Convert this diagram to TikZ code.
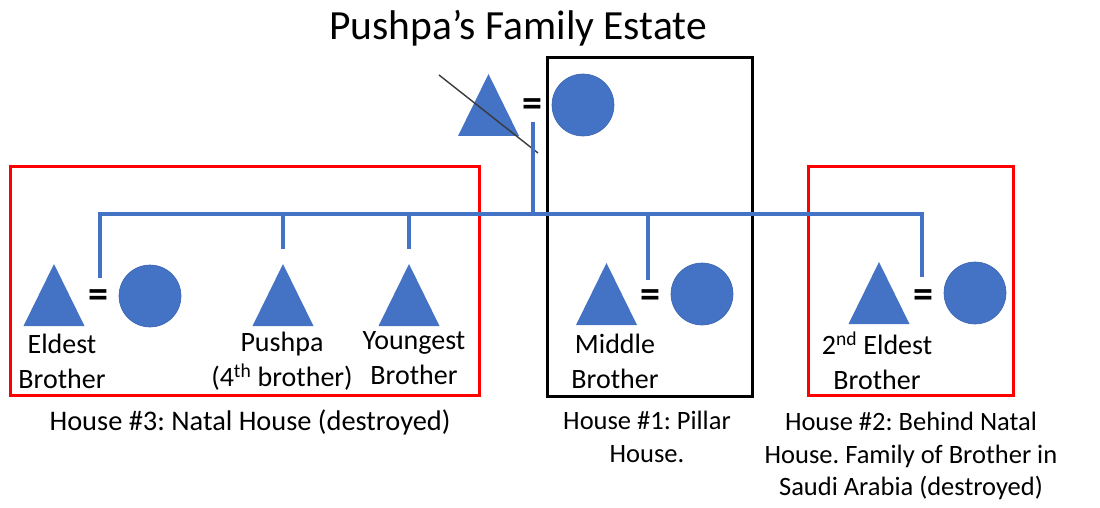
\documentclass[tikz,border=0pt]{standalone}
\usepackage{fontspec}
\setmainfont{Carlito}
\frenchspacing
\definecolor{pblue}{HTML}{4472C4}
\definecolor{pedge}{HTML}{3A64AE}
\definecolor{pred}{HTML}{FF0000}
\definecolor{slash}{HTML}{3A3A3A}
\newcommand\maletri[2]{\fill[pblue] ({#1-30.5},{#2+31}) -- ({#1},{#2-31}) -- ({#1+30.5},{#2+31}) -- cycle;}
\begin{document}
\frenchspacing
\begin{tikzpicture}[x=1pt,y=-1pt,
  female/.style={circle,fill=pblue,draw=pedge,line width=0.6pt,minimum size=62pt,inner sep=0pt},
  marry/.style={font=\fontsize{40}{40}\selectfont\bfseries,inner sep=0pt},
  lbl/.style={font=\fontsize{28}{35}\selectfont,align=center,inner sep=0pt},
  housecap/.style={font=\fontsize{26.5}{32.5}\selectfont,align=center,inner sep=0pt},
  kin/.style={draw=pblue,line width=4pt},
  redbox/.style={draw=pred,line width=3pt},
  blackbox/.style={draw=black,line width=3pt}]
\useasboundingbox (0,0) rectangle (1100,508);
% title
\node[font=\fontsize{41.5}{45}\selectfont,inner sep=0pt] (title) at (518,28) {Pushpa’s Family Estate};
% boxes
\draw[redbox] (10,166) rectangle (479,395);
\draw[blackbox] (547,58) rectangle (752,396);
\draw[redbox] (808,166) rectangle (1013,395);
% parents
\maletri{488.5}{105}
\draw[slash,line width=1.4pt] (439,75) -- (538,153);
\node[marry] (eq0) at (532,108) {=};
\node[female] (mother) at (583,105) {};
\coordinate (p0) at (533,122);
\coordinate (sib) at (533,214);
\draw[kin] (p0) -- (sib);
% sibling line
\coordinate (sL) at (100,214);
\coordinate (sR) at (922,214);
\draw[kin,line cap=rect] (sL) -- (sR);
\coordinate (d1) at (100,278);
\coordinate (d2t) at (283,214);
\coordinate (d2) at (283,249);
\coordinate (d3t) at (409,214);
\coordinate (d3) at (409,249);
\coordinate (d4t) at (648,214);
\coordinate (d4) at (648,280);
\coordinate (d5) at (922,277);
\draw[kin] (sL) -- (d1);
\draw[kin] (d2t) -- (d2);
\draw[kin] (d3t) -- (d3);
\draw[kin] (d4t) -- (d4);
\draw[kin] (sR) -- (d5);
% eldest
\maletri{54}{295}
\node[marry] (eq1) at (98,299) {=};
\node[female] (w1) at (150,296) {};
\node[lbl] (l1) at (62,361) {Eldest\\Brother};
% pushpa
\maletri{283}{295}
\node[lbl] (l2) at (282,361) {Pushpa\\(4\textsuperscript{th} brother)};
% youngest
\maletri{409}{295}
\node[lbl] (l3) at (414,358) {Youngest\\Brother};
% middle
\maletri{606.5}{294}
\node[marry] (eq4) at (650,299) {=};
\node[female] (w4) at (702,294) {};
\node[lbl] (l4) at (615,361) {Middle\\Brother};
% 2nd eldest
\maletri{879}{293}
\node[marry] (eq5) at (923,299) {=};
\node[female] (w5) at (975,293) {};
\node[lbl] (l5) at (877,361) {2\textsuperscript{nd} Eldest\\Brother};
% captions
\node[font=\fontsize{28.4}{34}\selectfont,inner sep=0pt] (c3) at (250,422) {House \#3: Natal House (destroyed)};
\node[housecap] (c1) at (647,437) {House \#1: Pillar\\House.};
\node[housecap] (c2) at (911,456) {House \#2: Behind Natal\\House. Family of Brother in\\Saudi Arabia (destroyed)};
\end{tikzpicture}
\end{document}
